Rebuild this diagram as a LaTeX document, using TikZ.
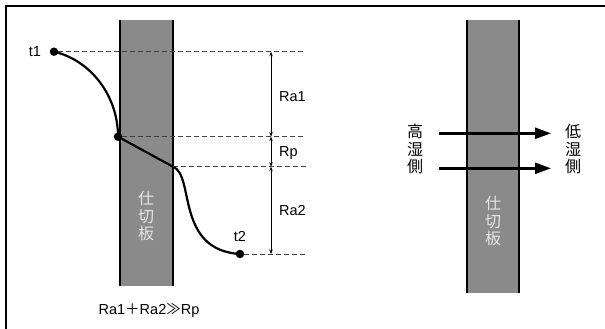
\documentclass[tikz,border=0pt]{standalone}
\usepackage{fontspec}
\setmainfont{Liberation Sans}
\newfontfamily\cjk{Noto Sans CJK JP}
\usetikzlibrary{arrows.meta}
\begin{document}
\begin{tikzpicture}[x=1pt,y=-1pt,
  dot/.style={circle,fill,inner sep=0pt,minimum size=8.5pt},
  wall/.style={fill=black!46,draw=none},
  lvl/.style={dashed,dash pattern=on 5pt off 3pt,black!75,line width=0.8pt},
  dim/.style={{Stealth[length=4.5pt,width=3.5pt]}-{Stealth[length=4.5pt,width=3.5pt]},line width=0.7pt},
  txt/.style={font=\fontsize{14.5}{14.5}\selectfont,inner sep=0pt},
  lbl/.style={txt,anchor=west},
  vtxt/.style={font=\cjk\fontsize{16}{17.5}\selectfont,align=center,inner sep=0pt},
  flow/.style={-{Triangle[length=16pt,width=11pt]},line width=2.4pt}]
\useasboundingbox (0,0) rectangle (605,329);
% frame
\draw[line width=1.1pt] (6,329) -- (6,6) -- (605,6);
% partition walls
\fill[wall] (120,20) rectangle (173,286);
\draw[line width=1.1pt] (120,20) -- (120,286) (173,20) -- (173,286);
\fill[wall] (467,20) rectangle (519,293);
\draw[line width=1.1pt] (467,20) -- (467,293) (519,20) -- (519,293);
\node[vtxt,text=black!10] (w1) at (146,216) {仕\\切\\板};
\node[vtxt,text=black!10] (w2) at (493,221) {仕\\切\\板};
% temperature profile
\node[dot] (t1) at (54,51.7) {};
\node[dot] (m) at (118,136.7) {};
\coordinate (p) at (173,166.7);
\node[dot] (t2) at (240,254) {};
\node[txt] (t1l) at (35,51.7) {t1};
\node[txt] (t2l) at (240,236) {t2};
\draw[line width=2.2pt] (t1.center) .. controls (90,60) and (118,95) .. (m.center)
  -- (p) .. controls (195,175) and (175,250) .. (t2.center);
% levels
\coordinate (e1) at (306,51.7);
\coordinate (e2) at (306,136.7);
\coordinate (e3) at (306,166.7);
\coordinate (e4) at (306,254);
\draw[lvl] (t1) -- (e1) (m) -- (e2) (p) -- (e3) (t2) -- (e4);
\draw[dim] (271,51.7) -- (271,136.7);
\draw[dim] (271,136.7) -- (271,166.7);
\draw[dim] (271,166.7) -- (271,254);
\node[lbl] (ra1) at (279,96.7) {Ra1};
\node[lbl] (rp) at (279,153.5) {Rp};
\node[lbl] (ra2) at (279,210.7) {Ra2};
\node[txt] (eq) at (149,310.5) {Ra1{\cjk ＋}Ra2{\cjk ≫}Rp};
% moisture flow
\node[vtxt] (hi) at (415,149) {高\\湿\\側};
\node[vtxt] (lo) at (573,149) {低\\湿\\側};
\coordinate (a1) at (439,133.3);
\coordinate (b1) at (551,133.3);
\coordinate (a2) at (439,168.3);
\coordinate (b2) at (551,168.3);
\draw[flow] (a1) -- (b1);
\draw[flow] (a2) -- (b2);
\end{tikzpicture}
\end{document}
